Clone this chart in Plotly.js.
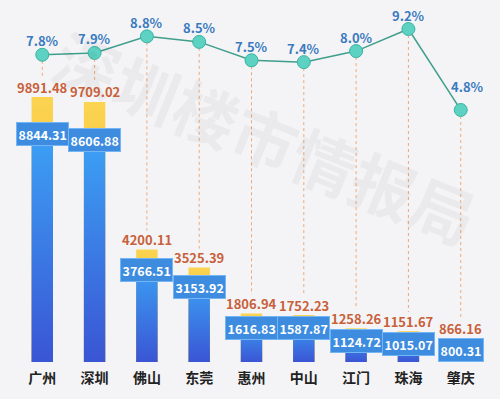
<!DOCTYPE html>
<html>
<head>
<meta charset="utf-8">
<script src="https://cdn.plot.ly/plotly-3.0.1.min.js"></script>
<style>html,body{margin:0;padding:0;background:#f4f4f6;}#chart{width:500px;height:399px;}</style>
</head>
<body>
<div id="chart"></div>
<script>
// ---- data ----
const cities = ['广州','深圳','佛山','东莞','惠州','中山','江门','珠海','肇庆'];
const totalValues = [9891.48, 9709.02, 4200.11, 3525.39, 1806.94, 1752.23, 1258.26, 1151.67, 866.16];
const baseValues = [8844.31, 8606.88, 3766.51, 3153.92, 1616.83, 1587.87, 1124.72, 1015.07, 800.31];
const growthRates = [7.8, 7.9, 8.8, 8.5, 7.5, 7.4, 8.0, 9.2, 4.8];
const watermark = '深圳楼市情报局';

// ---- layout constants ----
const M = {l: 10, r: 7, t: 20, b: 37};
const H = 399 - M.t - M.b;
const yRange = [0, 12766];
const y2Range = [-8.9, 9.69];
const FONT = '"Noto Sans CJK SC", "Noto Sans", sans-serif';

function yToY2(v, pxUp) {
  const frac = (v - yRange[0]) / (yRange[1] - yRange[0]) + pxUp / H;
  return y2Range[0] + frac * (y2Range[1] - y2Range[0]);
}

const traces = [
  {
    type: 'bar', x: cities, y: totalValues, yaxis: 'y',
    marker: {color: '#f6b932'}, hoverinfo: 'skip'
  },
  {
    type: 'bar', x: cities, y: baseValues, yaxis: 'y',
    marker: {color: '#3a86ea'}, hoverinfo: 'skip'
  },
  {
    type: 'scatter', mode: 'lines+markers', x: cities, y: growthRates, yaxis: 'y2',
    line: {color: '#3f9e8c', width: 1.5},
    marker: {size: 13, color: '#5dd2c2', line: {color: '#39b3a2', width: 1}},
    cliponaxis: false, hoverinfo: 'skip'
  }
];

const annotations = [];
annotations.push({
  xref: 'paper', yref: 'paper', x: 0.53, y: 0.66,
  text: watermark, showarrow: false, textangle: 22,
  font: {family: FONT, size: 64, color: 'rgba(0,0,0,0.04)', weight: 'bold'}
});
const last = cities.length - 1;
cities.forEach((c, i) => {
  annotations.push({
    x: c, y: growthRates[i], xref: 'x', yref: 'y2',
    text: growthRates[i].toFixed(1) + '%', showarrow: false,
    yanchor: 'middle', yshift: i === last ? 23 : 14, xshift: i === last ? 7 : 0,
    font: {family: FONT, size: 13, color: '#3a7bbf', weight: 'bold'}
  });
  annotations.push({
    x: c, y: totalValues[i], xref: 'x', yref: 'y',
    text: totalValues[i].toFixed(2), showarrow: false,
    yanchor: 'middle', yshift: 10,
    font: {family: FONT, size: 13, color: '#c8603a', weight: 'bold'}
  });
  annotations.push({
    x: c, y: baseValues[i], xref: 'x', yref: 'y',
    text: baseValues[i].toFixed(2), showarrow: false,
    yanchor: 'middle', yshift: -9,
    bgcolor: '#3d8ce0', bordercolor: '#74b6f5', borderwidth: 1, borderpad: 1.5,
    font: {family: FONT, size: 12.5, color: '#ffffff', weight: 'bold'}
  });
});

const shapes = cities.map((c, i) => ({
  type: 'line', xref: 'x', yref: 'y2',
  x0: c, x1: c, y0: growthRates[i], y1: yToY2(totalValues[i], 19),
  line: {color: '#f0a878', width: 1, dash: 'dot'}, layer: 'below'
}));

const layout = {
  width: 500, height: 399,
  margin: M,
  paper_bgcolor: '#f4f4f6', plot_bgcolor: '#f4f4f6',
  barmode: 'overlay', bargap: 0.59,
  showlegend: false,
  xaxis: {
    type: 'category', showgrid: false, zeroline: false, showline: false,
    ticks: '', tickfont: {family: FONT, size: 14, color: '#222222', weight: 'bold'},
    ticklabelstandoff: 6, fixedrange: true
  },
  yaxis: {range: yRange, visible: false, fixedrange: true},
  yaxis2: {range: y2Range, visible: false, overlaying: 'y', fixedrange: true},
  annotations: annotations,
  shapes: shapes
};

function addGradients(gd) {
  const svg = gd.querySelector('svg.main-svg');
  const NS = 'http://www.w3.org/2000/svg';
  let defs = svg.querySelector('defs');
  if (!defs) { defs = document.createElementNS(NS, 'defs'); svg.insertBefore(defs, svg.firstChild); }
  const grads = {
    gOrange: [['0%', '#fbd451'], ['100%', '#f2a51c']],
    gBlue: [['0%', '#3ca4f6'], ['100%', '#3a55d4']]
  };
  Object.keys(grads).forEach(id => {
    const lg = document.createElementNS(NS, 'linearGradient');
    lg.setAttribute('id', id);
    lg.setAttribute('x1', '0'); lg.setAttribute('y1', '0');
    lg.setAttribute('x2', '0'); lg.setAttribute('y2', '1');
    grads[id].forEach(([off, col]) => {
      const st = document.createElementNS(NS, 'stop');
      st.setAttribute('offset', off); st.setAttribute('stop-color', col);
      lg.appendChild(st);
    });
    defs.appendChild(lg);
  });
  const barTraces = gd.querySelectorAll('.barlayer .trace');
  const ids = ['gOrange', 'gBlue'];
  barTraces.forEach((t, k) => {
    t.querySelectorAll('path').forEach(p => { p.style.fill = 'url(#' + ids[k] + ')'; });
  });
}

Plotly.newPlot('chart', traces, layout, {displayModeBar: false, staticPlot: true}).then(addGradients);
</script>
</body>
</html>
